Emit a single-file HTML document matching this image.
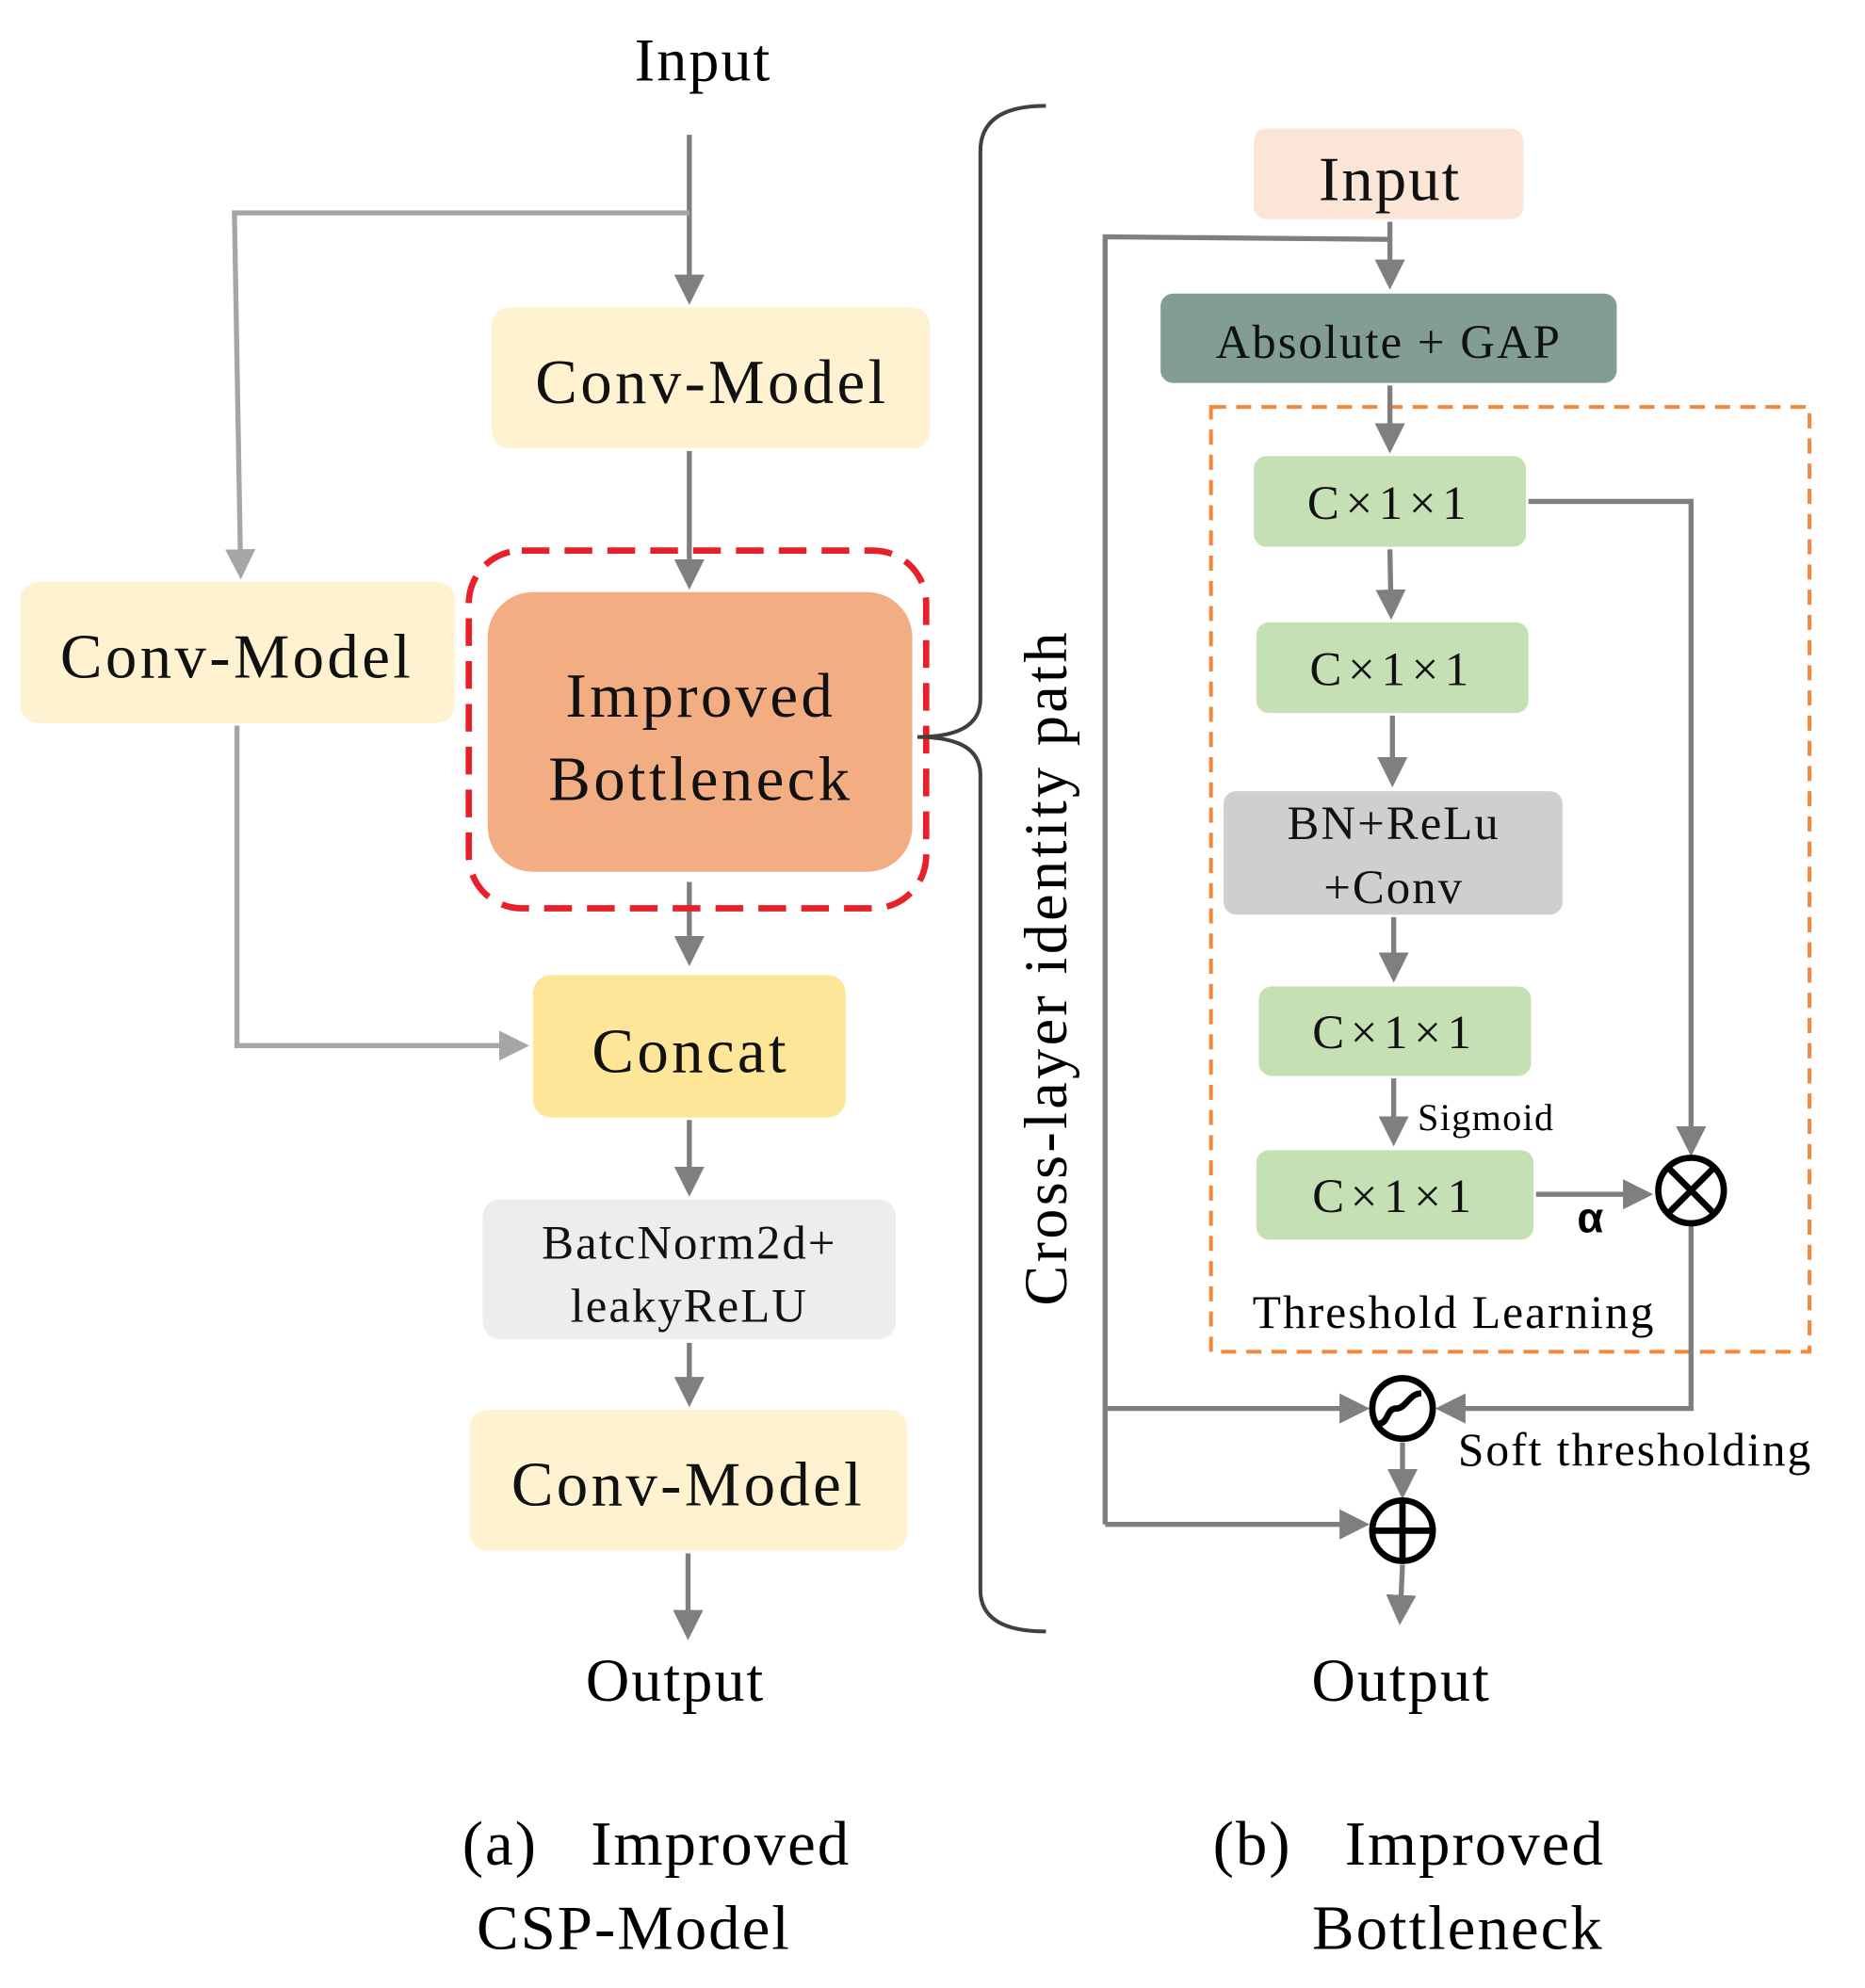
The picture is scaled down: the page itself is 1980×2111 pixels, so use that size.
<!DOCTYPE html>
<html><head><meta charset="utf-8"><style>html,body{margin:0;padding:0;background:#fff}svg{display:block}</style></head>
<body>
<svg width="1980" height="2111" viewBox="0 0 1480 1578" xmlns="http://www.w3.org/2000/svg" font-family="Liberation Serif, serif">
<defs>
<marker id="a" markerWidth="6" markerHeight="6" refX="5" refY="3" orient="auto" markerUnits="strokeWidth"><path d="M0,0 L6,3 L0,6 z" fill="#7f7f7f"/></marker>
<marker id="b" markerWidth="6" markerHeight="6" refX="5" refY="3" orient="auto" markerUnits="strokeWidth"><path d="M0,0 L6,3 L0,6 z" fill="#a6a6a6"/></marker>
</defs>
<g fill="#000" text-anchor="middle" letter-spacing="1.5">
<text x="558" y="64" font-size="48">Input</text>
<text x="536" y="1350" font-size="48">Output</text>
<text x="1112" y="1350" font-size="48">Output</text>
<text x="521" y="1480" font-size="50">(a)&#160;&#160;&#160;Improved</text>
<text x="503" y="1547" font-size="50">CSP-Model</text>
<text x="1118" y="1480" font-size="50">(b)&#160;&#160;&#160;Improved</text>
<text x="1157" y="1547" font-size="50">Bottleneck</text>
</g>
<g stroke="#7f7f7f" stroke-width="4" fill="none">
<line x1="547" y1="107" x2="547" y2="238" marker-end="url(#a)"/>
<line x1="547" y1="358" x2="547" y2="464" marker-end="url(#a)"/>
<line x1="547" y1="700" x2="547" y2="763" marker-end="url(#a)"/>
<line x1="547" y1="889" x2="547" y2="946" marker-end="url(#a)"/>
<line x1="547" y1="1066" x2="547" y2="1113" marker-end="url(#a)"/>
<line x1="546" y1="1233" x2="546" y2="1298" marker-end="url(#a)"/>
</g>
<g stroke="#a6a6a6" stroke-width="4" fill="none">
<polyline points="547,169 186,169 191,456" marker-end="url(#b)"/>
<polyline points="188,576 188,830 416,830" marker-end="url(#b)"/>
</g>
<rect x="390" y="244" width="348" height="112" rx="14" fill="#FEF2D0"/>
<rect x="16" y="462" width="345" height="112" rx="14" fill="#FEF2D0"/>
<rect x="372" y="437" width="363" height="284" rx="42" fill="none" stroke="#E8202A" stroke-width="5" stroke-dasharray="22 12"/>
<rect x="387" y="470" width="337" height="222" rx="36" fill="#F2AE82"/>
<rect x="423" y="774" width="248" height="113" rx="14" fill="#FEE699"/>
<rect x="383" y="952" width="328" height="111" rx="14" fill="#EDEDED"/>
<rect x="373" y="1119" width="347" height="112" rx="14" fill="#FEF2D0"/>
<g text-anchor="middle" font-size="50" fill="#111" letter-spacing="2.5">
<text x="565" y="320">Conv-Model</text>
<text x="188" y="538">Conv-Model</text>
<text x="556" y="569">Improved</text>
<text x="556" y="635">Bottleneck</text>
<text x="548" y="851">Concat</text>
<text x="546" y="1195">Conv-Model</text>
<text x="547" y="999" font-size="38" letter-spacing="1.5">BatcNorm2d+</text>
<text x="547" y="1049" font-size="38" letter-spacing="1.5">leakyReLU</text>
</g>
<path d="M830,84 Q778,84 778,120 L778,555 Q778,585 728,585 Q778,585 778,615 L778,1262 Q778,1295 830,1295" fill="none" stroke="#404040" stroke-width="3"/>
<text transform="translate(846,768) rotate(-90)" text-anchor="middle" font-size="48" letter-spacing="2.5">Cross-layer identity path</text>
<rect x="961" y="323" width="475" height="750" fill="none" stroke="#F4883A" stroke-width="3" stroke-dasharray="12 8"/>
<g stroke="#7f7f7f" stroke-width="4" fill="none">
<line x1="1103" y1="176" x2="1103" y2="226" marker-end="url(#a)"/>
<polyline points="1103,190 877,188 877,1210"/>
<line x1="1103" y1="306" x2="1103" y2="356" marker-end="url(#a)"/>
<polyline points="1213,398 1342,398 1342,914" marker-end="url(#a)"/>
<line x1="1103" y1="436" x2="1104" y2="488" marker-end="url(#a)"/>
<line x1="1105" y1="568" x2="1105" y2="621" marker-end="url(#a)"/>
<line x1="1106" y1="728" x2="1106" y2="776" marker-end="url(#a)"/>
<line x1="1106" y1="856" x2="1106" y2="906" marker-end="url(#a)"/>
<line x1="1219" y1="948" x2="1308" y2="948" marker-end="url(#a)"/>
<polyline points="1342,972 1342,1118 1143,1118" marker-end="url(#a)"/>
<line x1="877" y1="1118" x2="1083" y2="1118" marker-end="url(#a)"/>
<line x1="1113" y1="1145" x2="1113" y2="1186" marker-end="url(#a)"/>
<line x1="877" y1="1210" x2="1083" y2="1210" marker-end="url(#a)"/>
<line x1="1113" y1="1242" x2="1111" y2="1286" marker-end="url(#a)"/>
</g>
<rect x="995" y="102" width="214" height="72" rx="10" fill="#FBE5D6"/>
<rect x="921" y="233" width="362" height="71" rx="10" fill="#829E93"/>
<rect x="995" y="362" width="216" height="72" rx="10" fill="#C5E0B4"/>
<rect x="997" y="494" width="216" height="72" rx="10" fill="#C5E0B4"/>
<rect x="971" y="628" width="269" height="98" rx="10" fill="#D0CECE"/>
<rect x="999" y="783" width="216" height="71" rx="10" fill="#C5E0B4"/>
<rect x="997" y="913" width="220" height="71" rx="10" fill="#C5E0B4"/>
<g text-anchor="middle" font-size="38" fill="#111" letter-spacing="1.5">
<text x="1103" y="159" font-size="50">Input</text>
<text x="1102" y="284">Absolute + GAP</text>
<text x="1103" y="412" letter-spacing="5">C×1×1</text>
<text x="1105" y="544" letter-spacing="5">C×1×1</text>
<text x="1106" y="666">BN+ReLu</text>
<text x="1106" y="717">+Conv</text>
<text x="1107" y="832" letter-spacing="5">C×1×1</text>
<text x="1107" y="962" letter-spacing="5">C×1×1</text>
</g>
<text x="1125" y="897" font-size="30" letter-spacing="1">Sigmoid</text>
<text x="1262" y="978" font-size="34" text-anchor="middle" font-family="Liberation Sans, sans-serif" font-weight="bold">α</text>
<text x="994" y="1054" font-size="37" letter-spacing="1.5">Threshold Learning</text>
<text x="1157" y="1163" font-size="37" letter-spacing="1.5">Soft thresholding</text>
<g stroke="#000" stroke-width="5" fill="#fff">
<circle cx="1342" cy="945" r="26"/>
<line x1="1324" y1="927" x2="1360" y2="963"/>
<line x1="1360" y1="927" x2="1324" y2="963"/>
<circle cx="1113" cy="1118" r="24"/>
<path d="M1094,1130 C1102,1130 1100,1118 1108,1118 C1116,1118 1118,1106 1128,1106" fill="none"/>
<circle cx="1113" cy="1215" r="24"/>
<line x1="1089" y1="1215" x2="1137" y2="1215"/>
<line x1="1113" y1="1191" x2="1113" y2="1239"/>
</g>
</svg>
</body></html>
